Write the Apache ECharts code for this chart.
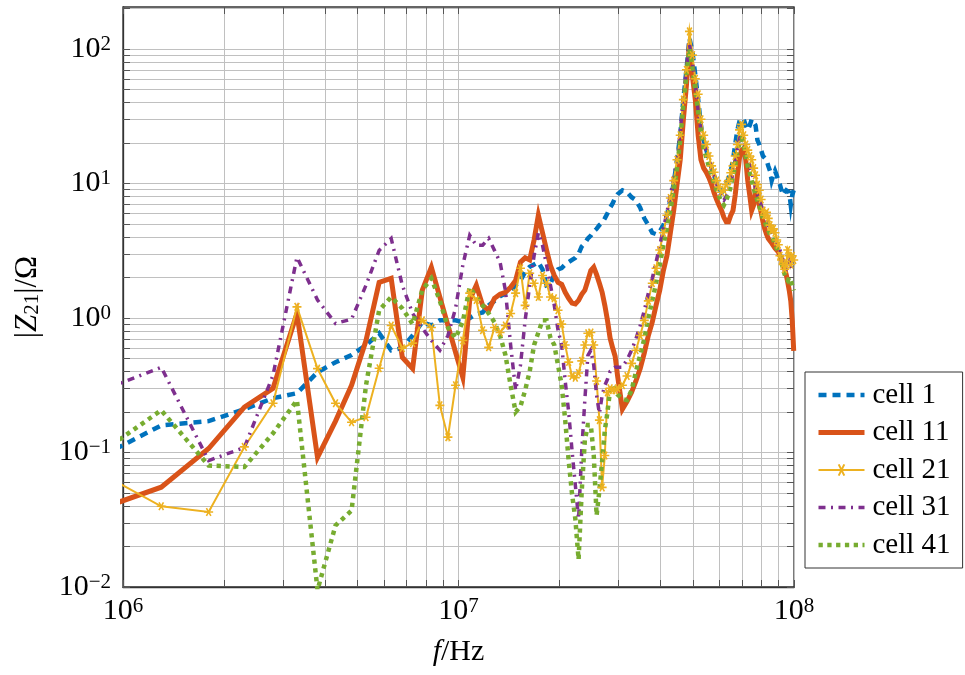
<!DOCTYPE html>
<html>
<head>
<meta charset="utf-8">
<title>|Z21| per cell</title>
<script src="https://cdn.jsdelivr.net/npm/echarts@6/dist/echarts.min.js"></script>
<style>
html, body { margin: 0; padding: 0; background: #fff; }
#chart-container { width: 965px; height: 675px; }
</style>
</head>
<body>
<div id="chart-container"></div>
<script>
// frequency grid in MHz: 0.5 MHz steps up to 30 MHz, 1 MHz steps above
var freqMHz = [
    0.8, 1.3, 1.8, 2.3, 2.8, 3.3, 3.8, 4.3, 4.8, 5.3,
    5.8, 6.3, 6.8, 7.3, 7.8, 8.3, 8.8, 9.3, 9.8, 10.3,
    10.8, 11.3, 11.8, 12.3, 12.8, 13.3, 13.8, 14.3, 14.8, 15.3,
    15.8, 16.3, 16.8, 17.3, 17.8, 18.3, 18.8, 19.3, 19.8, 20.3,
    20.8, 21.3, 21.8, 22.3, 22.8, 23.3, 23.8, 24.3, 24.8, 25.3,
    25.8, 26.3, 26.8, 27.3, 27.8, 28.3, 28.8, 29.3, 29.8,
    30.8, 31.8, 32.8, 33.8, 34.8, 35.8, 36.8, 37.8, 38.8, 39.8,
    40.8, 41.8, 42.8, 43.8, 44.8, 45.8, 46.8, 47.8, 48.8, 49.8,
    50.8, 51.8, 52.8, 53.8, 54.8, 55.8, 56.8, 57.8, 58.8, 59.8,
    60.8, 61.8, 62.8, 63.8, 64.8, 65.8, 66.8, 67.8, 68.8, 69.8,
    70.8, 71.8, 72.8, 73.8, 74.8, 75.8, 76.8, 77.8, 78.8, 79.8,
    80.8, 81.8, 82.8, 83.8, 84.8, 85.8, 86.8, 87.8, 88.8, 89.8,
    90.8, 91.8, 92.8, 93.8, 94.8, 95.8, 96.8, 97.8, 98.8, 99.8
];

// |Z21| in Ohm
var cell1 = [
    0.085, 0.159, 0.171, 0.21, 0.253, 0.276, 0.395, 0.469, 0.53, 0.627,
    0.77, 0.575, 0.596, 0.743, 0.93, 0.88, 0.96, 0.96, 0.96, 0.93,
    1.0, 1.07, 1.1, 1.24, 1.34, 1.45, 1.52, 1.6, 1.75, 1.9,
    2.2, 2.4, 2.5, 2.6, 2.3, 1.75, 1.8, 2.1, 2.3, 2.35,
    2.5, 2.6, 2.7, 2.8, 3.0, 3.4, 3.6, 3.9, 4.1, 4.4,
    4.6, 4.9, 5.1, 5.5, 6.0, 6.6, 7.1, 7.8, 8.3,
    8.9, 8.6, 7.9, 7.5, 6.6, 5.5, 4.9, 4.3, 4.2, 4.4,
    4.9, 5.8, 7.5, 10, 15, 22.8, 42, 70, 120, 95,
    64, 42, 27, 21, 17.7, 15, 13, 11.5, 10, 9.2,
    8.6, 8.9, 9.8, 11, 12.4, 15, 19.5, 25, 29, 30.5,
    30, 27, 25, 27, 30, 29, 27, 21, 19.5, 17.7,
    16, 15.5, 15, 13.5, 12.4, 10.5, 11.5, 12.4, 11.5, 10.5,
    9.8, 8.9, 8.2, 8.6, 8.9, 9.2, 8.6, 6.9, 8.2, 8.9
];
var cell11 = [
    0.036, 0.0552, 0.107, 0.217, 0.3, 1.08, 0.092, 0.171, 0.316, 0.68,
    1.84, 1.97, 0.51, 0.42, 1.61, 2.38, 1.43, 0.88, 0.556, 0.362,
    1.36, 1.75, 1.24, 1.14, 1.40, 1.50, 1.55, 1.69, 1.9, 2.6,
    2.8, 2.7, 3.8, 5.8, 4.3, 3.2, 2.45, 2.07, 1.84, 1.78,
    1.55, 1.40, 1.29, 1.27, 1.35, 1.5, 1.61, 1.9, 2.25, 2.38,
    2.1, 1.81, 1.55, 1.24, 0.96, 0.71, 0.6, 0.52, 0.37,
    0.21, 0.24, 0.28, 0.34, 0.42, 0.55, 0.74, 0.93, 1.24, 1.61,
    2.25, 2.9, 4.3, 6.3, 9.8, 15, 30, 54, 110, 63,
    42, 22.8, 15, 13, 12.1, 11, 9.8, 8.5, 7.6, 6.9,
    6.3, 5.6, 5.2, 5.2, 5.8, 6.3, 8.2, 11.5, 15.5, 17.7,
    18.2, 15, 10.5, 8.2, 6.3, 6.9, 8.9, 8.2, 6.9, 6.1,
    5.2, 4.6, 4.2, 3.9, 3.8, 3.6, 3.5, 3.3, 3.2, 3.1,
    2.9, 2.7, 2.5, 2.3, 2.1, 1.84, 1.6, 1.34, 0.96, 0.57
];
var cell21 = [
    0.077, 0.0398, 0.0361, 0.11, 0.232, 1.21, 0.42, 0.232, 0.168, 0.183,
    0.423, 0.88, 0.596, 0.65, 0.96, 0.85, 0.224, 0.13, 0.316, 0.68,
    1.53, 1.36, 0.81, 0.605, 0.85, 0.78, 0.88, 1.08, 1.53, 2.34,
    1.24, 2.15, 1.81, 1.43, 2.07, 1.81, 1.43, 1.40, 1.14, 0.90,
    0.63, 0.47, 0.37, 0.36, 0.39, 0.48, 0.63, 0.77, 0.78, 0.63,
    0.34, 0.174, 0.055, 0.095, 0.28, 0.30, 0.29, 0.29, 0.30,
    0.316, 0.37, 0.46, 0.575, 0.74, 0.96, 1.34, 1.81, 2.34, 3.2,
    4.3, 5.8, 7.8, 10.5, 15, 22.8, 42, 70, 135, 90,
    60, 46, 30, 22.8, 19.5, 16, 13.5, 12.1, 10.5, 9.4,
    8.6, 8.9, 9.8, 10.5, 12, 13.5, 16, 19.5, 25, 27.5,
    22.8, 19.5, 17.7, 16, 15, 13, 11.5, 9.8, 8.9, 7.6,
    6.3, 5.8, 6.1, 5.5, 4.9, 4.5, 4.6, 4.3, 3.8, 3.5,
    2.9, 2.7, 2.5, 2.3, 2.5, 3.2, 2.9, 2.5, 2.9, 2.7
];
var cell31 = [
    0.267, 0.43, 0.087, 0.109, 0.375, 2.83, 1.36, 0.91, 0.98, 1.75,
    3.18, 3.9, 1.75, 1.08, 0.84, 0.68, 0.575, 0.74, 1.18, 2.47,
    4.12, 3.47, 3.47, 3.9, 3.18, 2.6, 1.6, 0.63, 0.29, 0.445,
    0.96, 1.75, 2.9, 4.3, 3.47, 2.47, 1.75, 1.24, 0.81, 0.63,
    0.34, 0.2, 0.103, 0.057, 0.032, 0.103, 0.245, 0.525, 0.575, 0.445,
    0.265, 0.195, 0.265, 0.316, 0.35, 0.4, 0.41, 0.43, 0.43,
    0.43, 0.49, 0.575, 0.7, 0.88, 1.14, 1.53, 1.97, 2.6, 3.47,
    4.6, 6.1, 8.2, 11, 15, 24, 45, 70, 108, 80,
    55, 35, 25, 19.5, 17.3, 15, 13, 11.3, 9.9, 8.6,
    7.8, 7.5, 8, 8.9, 10, 12, 15, 18.2, 21.5, 23.5,
    21, 17.7, 15.5, 13.5, 12, 10.5, 9.2, 8.2, 7.5, 6.9,
    6.3, 5.8, 5.3, 4.9, 4.6, 4.3, 4.1, 3.9, 3.6, 3.4,
    3.2, 2.9, 2.7, 2.5, 2.3, 2.4, 2.6, 2.4, 2.2, 2.2
];
var cell41 = [
    0.088, 0.206, 0.08, 0.078, 0.139, 0.244, 0.0095, 0.0287, 0.037, 0.316,
    1.14, 1.43, 1.18, 0.9, 1.61, 1.97, 1.34, 0.85, 0.71, 0.94,
    1.69, 1.43, 1.24, 1.08, 0.93, 0.74, 0.53, 0.316, 0.2, 0.22,
    0.29, 0.4, 0.63, 0.78, 0.96, 0.96, 0.71, 0.63, 0.445, 0.316,
    0.174, 0.087, 0.049, 0.032, 0.016, 0.052, 0.123, 0.16, 0.16, 0.096,
    0.034, 0.052, 0.087, 0.146, 0.2, 0.29, 0.316, 0.29, 0.27,
    0.25, 0.245, 0.29, 0.4, 0.53, 0.7, 1.0, 1.34, 1.81, 2.47,
    3.47, 4.6, 6.3, 8.9, 13, 21, 39, 64, 100, 72,
    50, 34, 24, 18.2, 15.5, 13.3, 11.5, 10, 8.9, 8,
    7.3, 6.9, 7.5, 8.3, 9.5, 11.3, 13.5, 17.3, 20, 21.5,
    19.5, 16, 13.5, 12, 10.5, 9.2, 8.2, 7.5, 6.8, 6.1,
    5.5, 5.2, 4.8, 4.5, 4.2, 4.0, 3.8, 3.5, 3.3, 3.1,
    2.9, 2.6, 2.3, 2.1, 1.97, 1.9, 2.0, 1.9, 1.75, 1.6
];

var seriesNames = ['cell 1', 'cell 11', 'cell 21', 'cell 31', 'cell 41'];
var xLabelValues = [1e6, 1e7, 1e8];
var yLabelValues = [0.01, 0.1, 1, 10, 100];
var xGridValues = [
    1e6, 2e6, 3e6, 4e6, 5e6, 6e6, 7e6, 8e6, 9e6,
    1e7, 2e7, 3e7, 4e7, 5e7, 6e7, 7e7, 8e7, 9e7, 1e8
];
var yGridValues = [
    0.01, 0.02, 0.03, 0.04, 0.05, 0.06, 0.07, 0.08, 0.09,
    0.1, 0.2, 0.3, 0.4, 0.5, 0.6, 0.7, 0.8, 0.9,
    1, 2, 3, 4, 5, 6, 7, 8, 9,
    10, 20, 30, 40, 50, 60, 70, 80, 90,
    100, 200
];

var FONT = "'Liberation Serif', 'DejaVu Serif', serif";

// one line style per series, shared by the plot and the legend
var styles = {
    'cell 1': { color: '#0072BD', width: 4.5, type: [8, 6] },
    'cell 11': { color: '#D95319', width: 5, type: 'solid' },
    'cell 21': { color: '#EDB120', width: 2, type: 'solid' },
    'cell 31': { color: '#7E2F8E', width: 3.5, type: [7, 5.5, 2, 5.5] },
    'cell 41': { color: '#77AC30', width: 4.5, type: [4.3, 4.5] }
};

function toPairs(vals) {
    return freqMHz.map(function (f, i) {
        return [f * 1e6, vals[i]];
    });
}

function powLabel(v) {
    var e = Math.round(Math.log10(v));
    var s = e < 0 ? '\u2212' + (-e) : String(e);
    return '{b|10}{e|' + s + '}';
}

var labelRich = {
    b: { fontFamily: FONT, fontSize: 30, color: '#000' },
    e: { fontFamily: FONT, fontSize: 21, color: '#000', verticalAlign: 'top' }
};

function lineSeries(name, vals, extra) {
    var st = styles[name];
    var s = {
        name: name,
        type: 'line',
        data: toPairs(vals),
        symbol: 'none',
        lineStyle: { color: st.color, width: st.width, type: st.type, cap: 'butt', join: 'miter', miterLimit: 10 },
        itemStyle: { color: st.color },
        emphasis: { disabled: true },
        silent: true,
        clip: true
    };
    return Object.assign(s, extra || {});
}

// legend entries: line-only series get no centre symbol
var noSymbol = { opacity: 0, color: 'rgba(0,0,0,0)', borderColor: 'rgba(0,0,0,0)', borderWidth: 0 };
var legendData = seriesNames.map(function (n) {
    var st = styles[n];
    var item = { name: n, lineStyle: { color: st.color, width: st.width, type: st.type, cap: 'butt' } };
    if (n !== 'cell 21') item.itemStyle = noSymbol;
    return item;
});

var dom = document.getElementById('chart-container');
var myChart = echarts.init(dom, null, { renderer: 'canvas' });

var axisTickStyle = { show: true, inside: true, length: 7, lineStyle: { color: '#555', width: 1 } };
var gridLine = { show: true, lineStyle: { color: '#c0c0c0', width: 1 } };

var option = {
    animation: false,
    backgroundColor: '#fff',
    textStyle: { fontFamily: FONT },
    grid: {
        left: 123, right: 171, top: 7, bottom: 88,
        show: true, borderColor: '#333', borderWidth: 1.3, backgroundColor: 'transparent'
    },
    legend: {
        data: legendData,
        orient: 'vertical',
        left: 805,
        top: 372,
        padding: [8, 12, 8, 11],
        itemGap: 7.5,
        itemWidth: 46,
        itemHeight: 14,
        borderColor: '#333',
        borderWidth: 1,
        backgroundColor: '#fff',
        textStyle: { fontFamily: FONT, fontSize: 29, color: '#000', lineHeight: 30, padding: [0, 0, 0, 3] }
    },
    xAxis: [{
        type: 'log',
        logBase: 10,
        min: 1e6,
        max: 1e8,
        name: '{i|f}{n|/Hz}',
        nameLocation: 'middle',
        nameGap: 50,
        nameTextStyle: {
            rich: {
                i: { fontFamily: FONT, fontSize: 30, fontStyle: 'italic', color: '#000' },
                n: { fontFamily: FONT, fontSize: 30, color: '#000' }
            }
        },
        axisLine: { show: true, lineStyle: { color: '#333', width: 1.3 } },
        axisTick: Object.assign({ customValues: xGridValues }, axisTickStyle),
        axisLabel: { customValues: xLabelValues, margin: 9, formatter: powLabel, rich: labelRich },
        splitLine: gridLine
    }, {
        type: 'log',
        logBase: 10,
        min: 1e6,
        max: 1e8,
        position: 'top',
        axisLine: { show: false },
        axisTick: Object.assign({ customValues: xGridValues }, axisTickStyle),
        axisLabel: { show: false },
        splitLine: { show: false }
    }],
    yAxis: [{
        type: 'log',
        logBase: 10,
        min: 0.01,
        max: 205,
        name: '|{i|Z}{s|21}|/\u03a9',
        nameLocation: 'middle',
        nameRotate: 90,
        nameGap: 80,
        nameTextStyle: {
            rich: {
                i: { fontFamily: FONT, fontSize: 31, fontStyle: 'italic', color: '#000' },
                s: { fontFamily: FONT, fontSize: 21, color: '#000', verticalAlign: 'bottom' }
            },
            fontFamily: FONT, fontSize: 31, color: '#000'
        },
        axisLine: { show: true, lineStyle: { color: '#333', width: 1.3 } },
        axisTick: Object.assign({ customValues: yGridValues }, axisTickStyle),
        axisLabel: { customValues: yLabelValues, margin: 12, formatter: powLabel, rich: labelRich },
        splitLine: gridLine
    }, {
        type: 'log',
        logBase: 10,
        min: 0.01,
        max: 205,
        position: 'right',
        axisLine: { show: false },
        axisTick: Object.assign({ customValues: yGridValues }, axisTickStyle),
        axisLabel: { show: false },
        splitLine: { show: false }
    }],
    series: [
        lineSeries('cell 1', cell1),
        lineSeries('cell 11', cell11),
        lineSeries('cell 21', cell21, {
            symbol: 'path://M0,5L10,5M2.5,0.67L7.5,9.33M2.5,9.33L7.5,0.67',
            symbolSize: 9,
            symbolKeepAspect: true,
            showSymbol: true,
            itemStyle: { color: '#EDB120', borderColor: '#EDB120', borderWidth: 1.6 }
        }),
        lineSeries('cell 31', cell31),
        lineSeries('cell 41', cell41)
    ]
};

myChart.setOption(option);

window.addEventListener('resize', myChart.resize);
</script>
</body>
</html>
